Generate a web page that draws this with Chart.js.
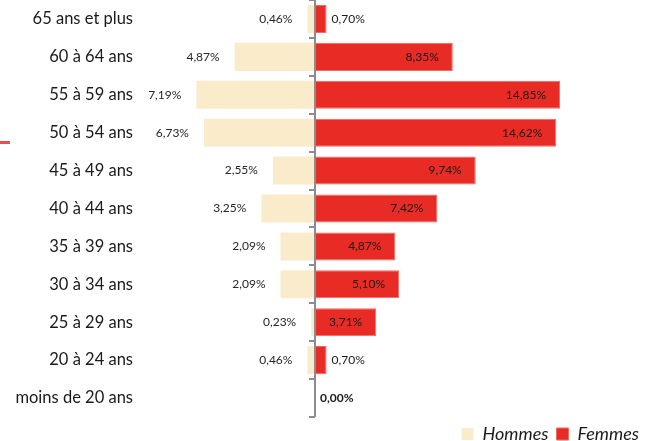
<!DOCTYPE html>
<html>
<head>
<meta charset="utf-8">
<script src="https://cdn.jsdelivr.net/npm/chart.js@4.4.1/dist/chart.umd.min.js"></script>
<style>
  html, body { margin: 0; padding: 0; background: #ffffff; }
  #wrap { position: relative; width: 652px; height: 441px; }
  #deco { position: absolute; left: 0; top: 141px; width: 10px; height: 3px; background: #E8504F; }
</style>
</head>
<body>
<div id="wrap">
  <canvas id="c" width="652" height="441"></canvas>
  <div id="deco"></div>
</div>
<script>
const categories = ["65 ans et plus", "60 à 64 ans", "55 à 59 ans", "50 à 54 ans", "45 à 49 ans",
  "40 à 44 ans", "35 à 39 ans", "30 à 34 ans", "25 à 29 ans", "20 à 24 ans", "moins de 20 ans"];
const hommes = [0.46, 4.87, 7.19, 6.73, 2.55, 3.25, 2.09, 2.09, 0.23, 0.46, 0.00];
const femmes = [0.70, 8.35, 14.85, 14.62, 9.74, 7.42, 4.87, 5.10, 3.71, 0.70, 0.00];
const seriesNames = ["Hommes", "Femmes"];

const FONT = "Lato, 'Open Sans', sans-serif";
const fmt = v => v.toFixed(2).replace('.', ',') + '%';

const pyramidPlugin = {
  id: 'pyramid',
  afterDatasetsDraw(chart) {
    const ctx = chart.ctx;
    const xs = chart.scales.x, ys = chart.scales.y;
    const area = chart.chartArea;
    const x0 = xs.getPixelForValue(0);
    ctx.save();
    ctx.textBaseline = 'middle';
    ctx.font = "12px " + FONT;
    const mh = chart.getDatasetMeta(0);
    mh.data.forEach((bar, i) => {
      if (hommes[i] <= 0) return;
      ctx.fillStyle = '#262626';
      ctx.textAlign = 'right';
      ctx.fillText(fmt(hommes[i]), bar.x - 15, bar.y);
    });
    const mf = chart.getDatasetMeta(1);
    mf.data.forEach((bar, i) => {
      const txt = fmt(femmes[i]);
      const w = bar.x - x0;
      ctx.font = (femmes[i] === 0 ? "bold " : "") + "12px " + FONT;
      const tw = ctx.measureText(txt).width;
      ctx.fillStyle = '#1a1a1a';
      if (w > tw + 20) {
        ctx.textAlign = 'right';
        ctx.fillText(txt, bar.x - 14, bar.y);
      } else {
        ctx.textAlign = 'left';
        ctx.fillText(txt, Math.max(bar.x, x0) + 5, bar.y);
      }
    });
    ctx.strokeStyle = '#8c8c8c';
    ctx.lineWidth = 2;
    ctx.beginPath();
    ctx.moveTo(x0, area.top);
    ctx.lineTo(x0, area.bottom);
    ctx.stroke();
    const n = categories.length;
    for (let i = 0; i <= n; i++) {
      const y = ys.getPixelForValue(i - 0.5);
      ctx.beginPath();
      ctx.moveTo(x0 - 6, Math.round(y));
      ctx.lineTo(x0, Math.round(y));
      ctx.stroke();
    }
    ctx.restore();
  }
};

new Chart(document.getElementById('c'), {
  type: 'bar',
  data: {
    labels: categories,
    datasets: [
      { label: seriesNames[0], data: hommes.map(v => -v), backgroundColor: '#FAEBCB', borderWidth: 0,
        categoryPercentage: 1, barPercentage: 0.74 },
      { label: seriesNames[1], data: femmes, backgroundColor: '#E82B24', borderColor: '#F06A63', borderWidth: 1,
        borderSkipped: 'start', categoryPercentage: 1, barPercentage: 0.74 }
    ]
  },
  options: {
    indexAxis: 'y',
    responsive: false,
    animation: false,
    events: [],
    layout: { padding: { top: -2, left: 0, right: 5, bottom: -12 } },
    scales: {
      x: { stacked: true, display: false, min: -10.606, max: 20.12 },
      y: {
        stacked: true,
        grid: { display: false, drawTicks: false },
        border: { display: false },
        ticks: { color: '#1a1a1a', font: { family: FONT, size: 16.5 }, padding: 7 },
        afterFit: s => { s.width = 140; s.paddingTop = 0; s.paddingBottom = 20; }
      }
    },
    plugins: {
      legend: {
        position: 'bottom',
        align: 'end',
        labels: {
          boxWidth: 12, boxHeight: 12, padding: 8,
          color: '#1a1a1a',
          font: { family: FONT, size: 18, style: 'italic' }
        }
      },
      tooltip: { enabled: false }
    }
  },
  plugins: [pyramidPlugin]
});
</script>
</body>
</html>
